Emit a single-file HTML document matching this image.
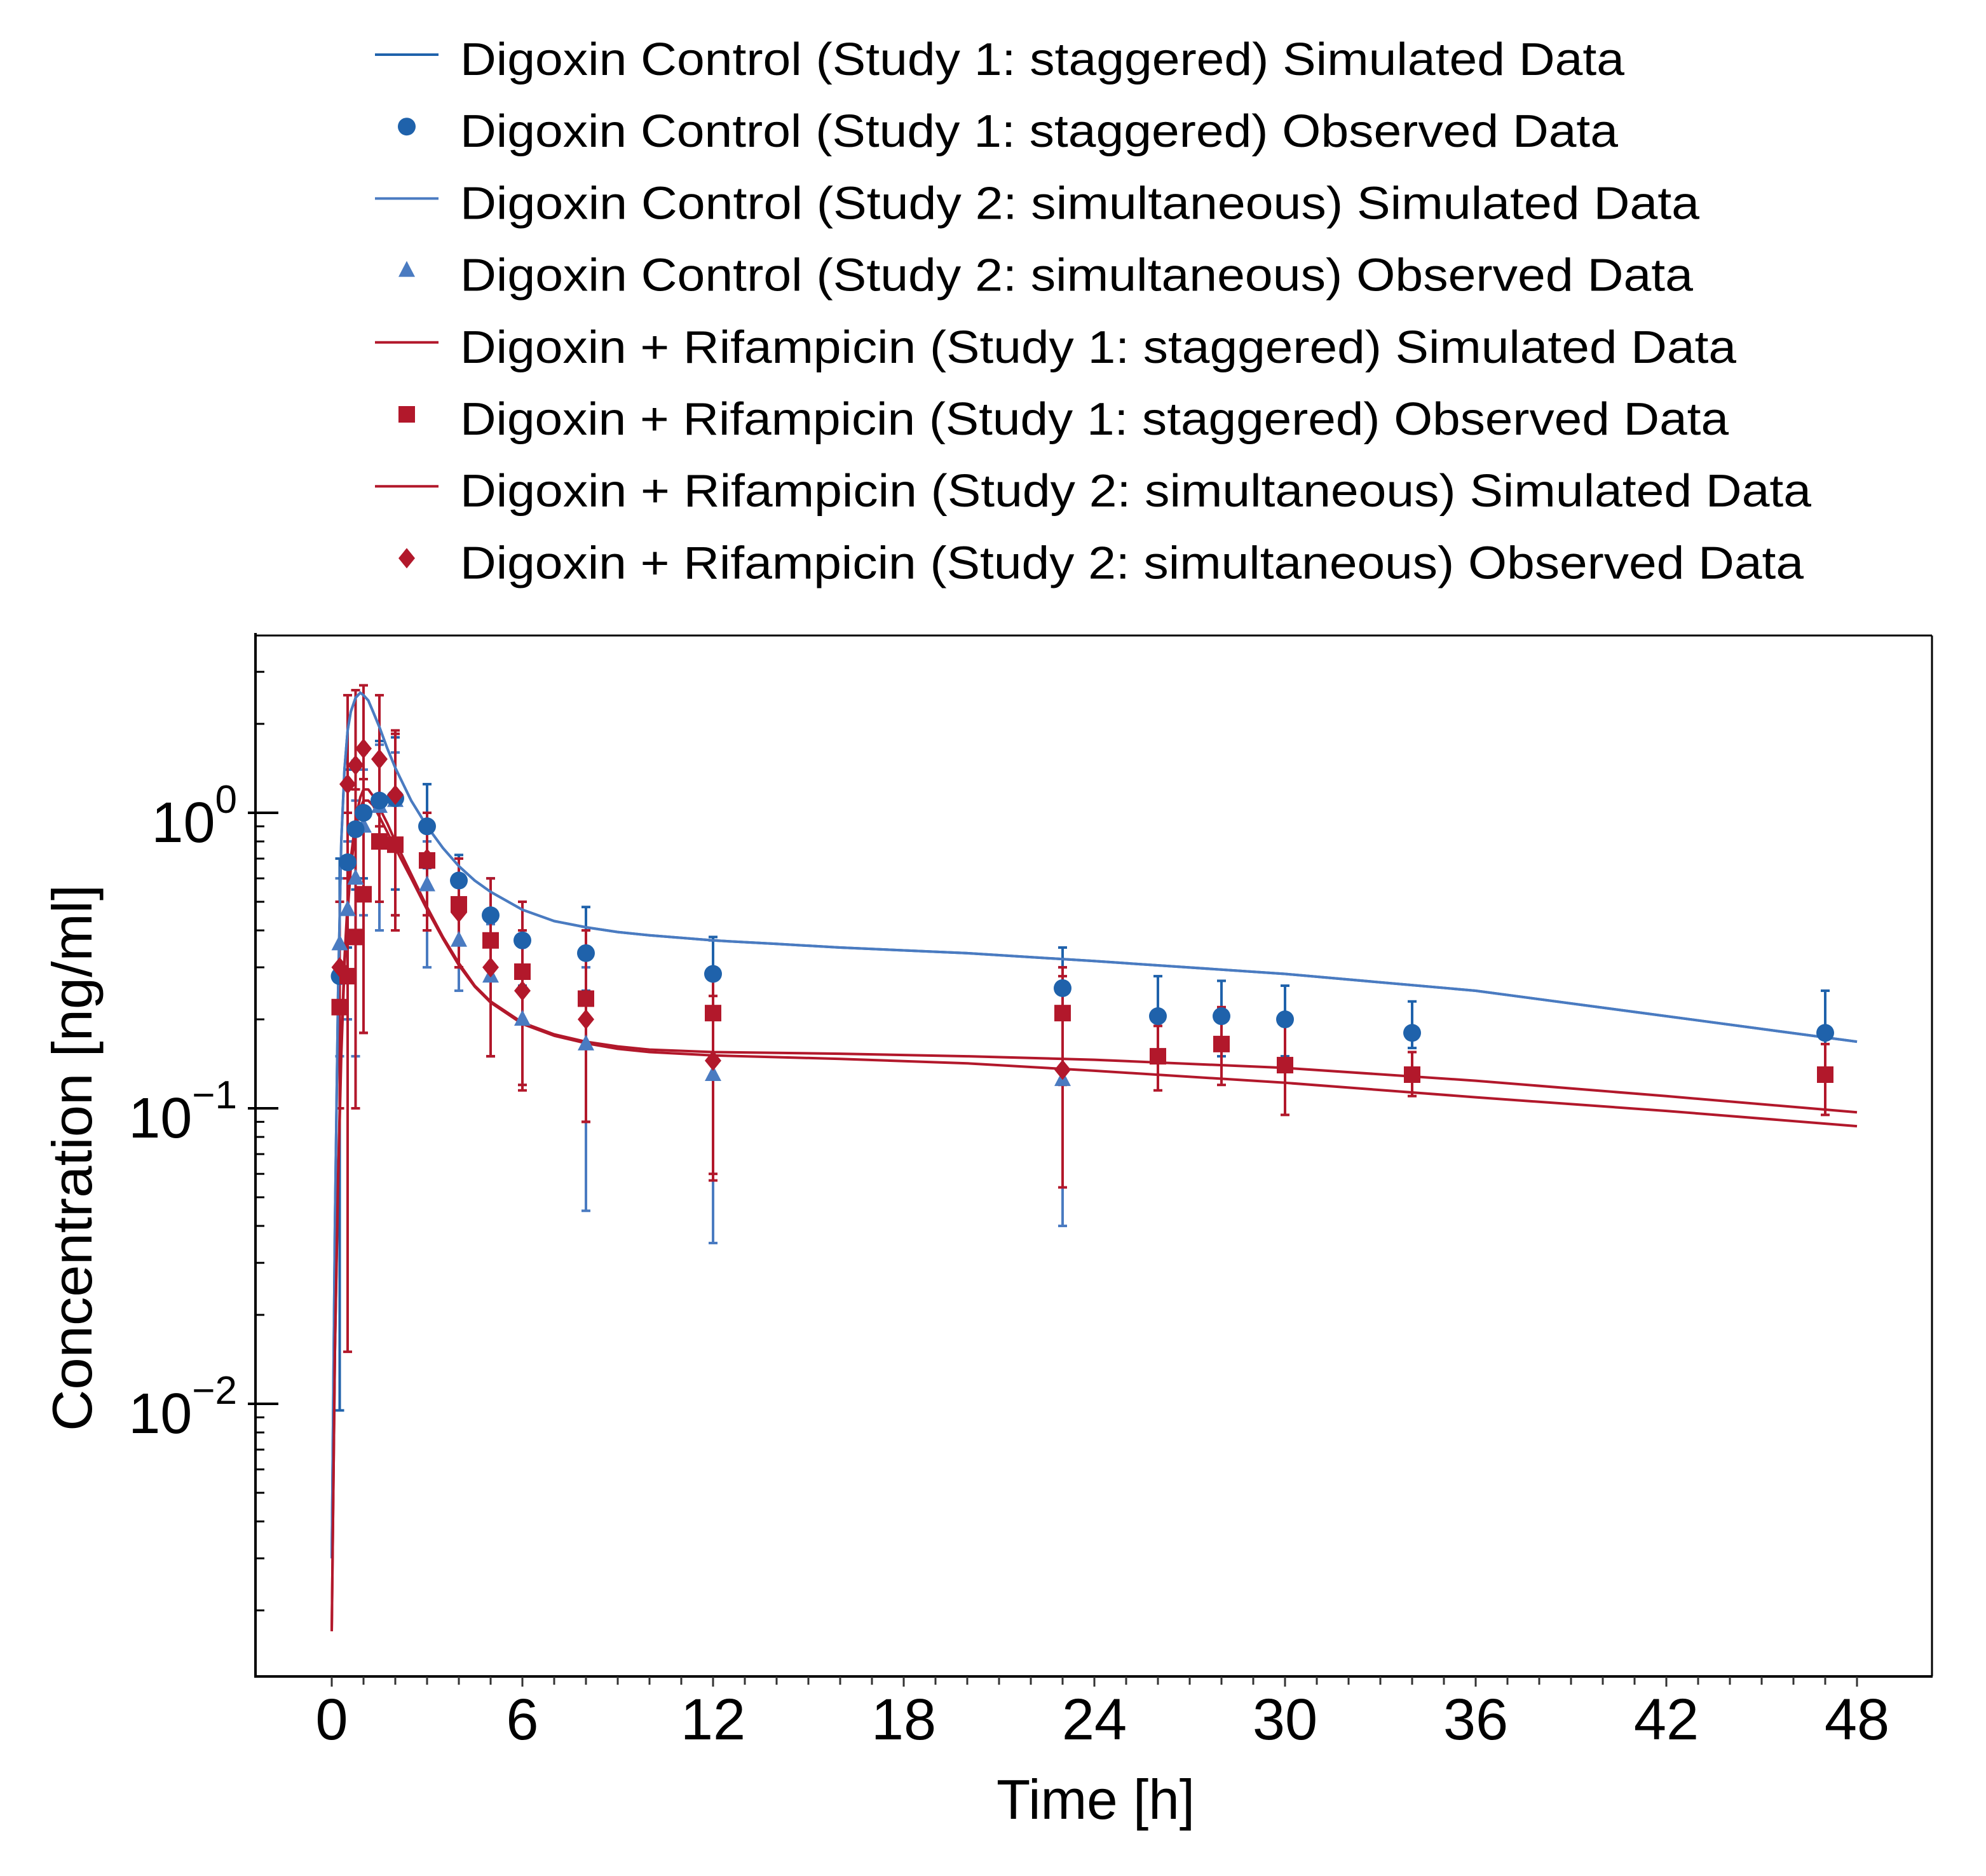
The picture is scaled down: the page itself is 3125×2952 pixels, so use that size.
<!DOCTYPE html>
<html><head><meta charset="utf-8"><style>
html,body{margin:0;padding:0;background:#fff;}
svg{display:block;font-family:"Liberation Sans","DejaVu Sans",sans-serif;}
</style></head><body>
<svg id="chart" width="3125" height="2952" viewBox="0 0 3125 2952" xmlns="http://www.w3.org/2000/svg">
<rect x="0" y="0" width="3125" height="2952" fill="#fff"/>
<g id="legend"></g>
<g id="plot"></g>
<g id="axes"></g>
</svg>
<script>
// ---- data ----
const xTicks = [0,6,12,18,24,30,36,42,48];
const yDecades = [0,-1,-2];
const legendLabels = [
 "Digoxin Control (Study 1: staggered) Simulated Data",
 "Digoxin Control (Study 1: staggered) Observed Data",
 "Digoxin Control (Study 2: simultaneous) Simulated Data",
 "Digoxin Control (Study 2: simultaneous) Observed Data",
 "Digoxin + Rifampicin (Study 1: staggered) Simulated Data",
 "Digoxin + Rifampicin (Study 1: staggered) Observed Data",
 "Digoxin + Rifampicin (Study 2: simultaneous) Simulated Data",
 "Digoxin + Rifampicin (Study 2: simultaneous) Observed Data"];

const simTime = [0,0.1,0.2,0.3,0.4,0.5,0.6,0.75,0.9,1,1.15,1.3,1.5,1.75,2,2.5,3,3.5,4,4.5,5,6,7,8,9,10,12,14,16,20,24,30,36,42,48];
const simCtrl1 = [0.003,0.04,0.25,0.8,1.4,1.9,2.2,2.45,2.55,2.5,2.4,2.2,1.95,1.65,1.42,1.1,0.9,0.76,0.66,0.59,0.54,0.47,0.43,0.41,0.395,0.385,0.37,0.36,0.35,0.335,0.315,0.285,0.25,0.205,0.168];
const simCtrl2 = [0.003,0.04,0.25,0.8,1.4,1.9,2.2,2.45,2.55,2.5,2.4,2.2,1.95,1.65,1.42,1.1,0.9,0.76,0.66,0.59,0.54,0.47,0.43,0.41,0.395,0.385,0.37,0.36,0.35,0.335,0.315,0.285,0.25,0.205,0.168];
const simRif1 = [0.0017,0.015,0.06,0.16,0.32,0.5,0.7,0.95,1.13,1.2,1.2,1.14,1.04,0.92,0.8,0.62,0.48,0.38,0.31,0.26,0.23,0.195,0.178,0.168,0.162,0.158,0.155,0.154,0.153,0.15,0.146,0.137,0.124,0.11,0.097];
const simRif2 = [0.0017,0.015,0.055,0.15,0.3,0.46,0.65,0.88,1.04,1.1,1.1,1.06,0.97,0.86,0.76,0.6,0.47,0.375,0.305,0.258,0.228,0.193,0.176,0.166,0.159,0.155,0.151,0.149,0.147,0.142,0.134,0.122,0.109,0.098,0.087];

const obsCtrl1T = [0.25,0.5,0.75,1,1.5,2,3,4,5,6,8,12,23,26,28,30,34,47];
const obsCtrl1V = [0.28,0.68,0.88,1.0,1.1,1.12,0.9,0.59,0.45,0.37,0.335,0.285,0.255,0.205,0.205,0.2,0.18,0.18];
const obsCtrl1Lo = [0.0095,0.35,0.55,0.6,0.5,0.55,0.65,0.48,0.38,0.26,0.25,0.21,0.2,0.15,0.15,0.15,0.16,0.13];
const obsCtrl1Hi = [0.7,1.4,1.5,1.6,1.75,1.8,1.25,0.72,0.6,0.5,0.48,0.38,0.35,0.28,0.27,0.26,0.23,0.25];

const obsCtrl2T = [0.25,0.5,0.75,1,1.5,2,3,4,5,6,8,12,23];
const obsCtrl2V = [0.36,0.47,0.6,0.9,1.05,1.1,0.57,0.37,0.28,0.2,0.165,0.13,0.125];
const obsCtrl2Lo = [0.15,0.2,0.15,0.45,0.4,0.45,0.3,0.25,0.15,0.12,0.045,0.035,0.04];
const obsCtrl2Hi = [0.6,0.8,1.1,1.4,1.7,1.6,0.8,0.5,0.42,0.3,0.3,0.37,0.3];

const obsRif1T = [0.25,0.5,0.75,1,1.5,2,3,4,5,6,8,12,23,26,28,30,34,47];
const obsRif1V = [0.22,0.28,0.38,0.53,0.8,0.78,0.69,0.49,0.37,0.29,0.235,0.21,0.21,0.15,0.165,0.14,0.13,0.13];
const obsRif1Lo = [0.1,0.015,0.1,0.18,0.5,0.4,0.45,0.3,0.15,0.115,0.09,0.06,0.12,0.115,0.12,0.095,0.11,0.095];
const obsRif1Hi = [0.5,1.0,1.2,1.3,1.5,1.9,1.0,0.7,0.6,0.5,0.4,0.3,0.3,0.19,0.22,0.19,0.155,0.165];

const obsRif2T = [0.25,0.5,0.75,1,1.5,2,3,4,5,6,8,12,23];
const obsRif2V = [0.3,1.25,1.45,1.65,1.52,1.15,0.7,0.46,0.3,0.25,0.2,0.145,0.135];
const obsRif2Lo = [0.1,0.6,0.4,0.18,0.9,0.45,0.4,0.3,0.15,0.12,0.09,0.057,0.054];
const obsRif2Hi = [0.5,2.5,2.6,2.7,2.5,1.85,1.0,0.62,0.45,0.4,0.32,0.24,0.28];

// ---- geometry ----
const NS="http://www.w3.org/2000/svg";
const L=402,R=3040,T=1000,B=2638;
const X0=522,PXH=50;
const Y0=1279,DEC=465;
function xs(t){return X0+t*PXH;}
function ys(v){return Y0-Math.log10(v)*DEC;}
const C_BLUE="#1f62ab", C_BLUE2="#4a7bc1", C_RED="#b2182b";
function mk(tag,attrs,parent){const e=document.createElementNS(NS,tag);for(const k in attrs)e.setAttribute(k,attrs[k]);parent.appendChild(e);return e;}
const plot=document.getElementById('plot'), axes=document.getElementById('axes'), legend=document.getElementById('legend');

const defs=mk('defs',{},plot.parentNode);
const cp=mk('clipPath',{id:'clip'},defs);
mk('rect',{x:L,y:T,width:R-L,height:B-T},cp);
const pg=mk('g',{'clip-path':'url(#clip)'},plot);

function simLine(vals,color,name){
  let d='';
  for(let i=0;i<simTime.length;i++){d+=(i?'L':'M')+xs(simTime[i]).toFixed(1)+','+ys(vals[i]).toFixed(1);}
  const p=mk('path',{d:d,fill:'none',stroke:color,'stroke-width':4,'stroke-linejoin':'round'},pg);
  
  
}
function errs(T_,lo,hi,color,name){
  const g=mk('g',{},pg);
  
  
  for(let i=0;i<T_.length;i++){
    const x=xs(T_[i]),y1=ys(lo[i]),y2=ys(hi[i]);
    mk('line',{x1:x,x2:x,y1:y1,y2:y2,stroke:color,'stroke-width':4},g);
    mk('line',{x1:x-7,x2:x+7,y1:y1,y2:y1,stroke:color,'stroke-width':4},g);
    mk('line',{x1:x-7,x2:x+7,y1:y2,y2:y2,stroke:color,'stroke-width':4},g);
  }
}
function marker(shape,x,y,color,parent){
  let e;
  if(shape==='circle')e=mk('circle',{cx:x,cy:y,r:14,fill:color},parent);
  else if(shape==='tri')e=mk('polygon',{points:`${x},${y-15} ${x+13},${y+10} ${x-13},${y+10}`,fill:color},parent);
  else if(shape==='sq')e=mk('rect',{x:x-13,y:y-13,width:26,height:26,fill:color},parent);
  else e=mk('polygon',{points:`${x},${y-16} ${x+13},${y} ${x},${y+16} ${x-13},${y}`,fill:color},parent);
  return e;
}
function pts(T_,V,shape,color,name){
  const g=mk('g',{},pg);
  
  
  for(let i=0;i<T_.length;i++){
    const m=marker(shape,xs(T_[i]),ys(V[i]),color,g);
    
    
  }
}
errs(obsCtrl2T,obsCtrl2Lo,obsCtrl2Hi,C_BLUE2,'ctrl-study2-error-bars');
errs(obsCtrl1T,obsCtrl1Lo,obsCtrl1Hi,C_BLUE,'ctrl-study1-error-bars');
errs(obsRif1T,obsRif1Lo,obsRif1Hi,C_RED,'rif-study1-error-bars');
errs(obsRif2T,obsRif2Lo,obsRif2Hi,C_RED,'rif-study2-error-bars');
simLine(simCtrl1,C_BLUE,'ctrl-study1-sim-line');
simLine(simCtrl2,C_BLUE2,'ctrl-study2-sim-line');
simLine(simRif1,C_RED,'rif-study1-sim-line');
simLine(simRif2,C_RED,'rif-study2-sim-line');
pts(obsCtrl2T,obsCtrl2V,'tri',C_BLUE2,'ctrl-study2-observed');
pts(obsCtrl1T,obsCtrl1V,'circle',C_BLUE,'ctrl-study1-observed');
pts(obsRif1T,obsRif1V,'sq',C_RED,'rif-study1-observed');
pts(obsRif2T,obsRif2V,'dia',C_RED,'rif-study2-observed');

// ---- axes frame ----
mk('line',{x1:L,x2:R,y1:T,y2:T,stroke:'#000','stroke-width':3},axes);
mk('line',{x1:R,x2:R,y1:T,y2:B,stroke:'#000','stroke-width':3},axes);
mk('line',{x1:L,x2:L,y1:T-4,y2:B+2,stroke:'#000','stroke-width':4},axes);
mk('line',{x1:L-2,x2:R+1,y1:B,y2:B,stroke:'#000','stroke-width':4},axes);
for(let t=0;t<=48;t++){
  const major=t%6===0;
  mk('line',{x1:xs(t),x2:xs(t),y1:B,y2:B+(major?16:13),stroke:'#333','stroke-width':3},axes);
}
xTicks.forEach(t=>{
  const e=mk('text',{x:xs(t),y:2737,'font-size':92,'text-anchor':'middle',fill:'#000'},axes);
  e.textContent=t;
  
  
});
for(let d=-3;d<=0;d++){
  for(let m=1;m<=9;m++){
    const v=m*Math.pow(10,d);const y=ys(v);
    if(y<T||y>B)continue;
    if(m===1)mk('line',{x1:L-12,x2:L+36,y1:y,y2:y,stroke:'#000','stroke-width':4},axes);
    else mk('line',{x1:L,x2:L+14,y1:y,y2:y,stroke:'#000','stroke-width':3},axes);
  }
}
yDecades.forEach(d=>{
  const t=mk('text',{x:373,y:ys(Math.pow(10,d))+46,'font-size':90,'text-anchor':'end',fill:'#000'},axes);
  
  
  const a=document.createElementNS(NS,'tspan');a.textContent='10';t.appendChild(a);
  const b=document.createElementNS(NS,'tspan');b.setAttribute('dy','-46');b.setAttribute('font-size','62');b.textContent=(d<0?'\u2212':'')+Math.abs(d);t.appendChild(b);
});
const xl=mk('text',{x:1724,y:2862,'font-size':88,'text-anchor':'middle',fill:'#000',textLength:312,lengthAdjust:'spacingAndGlyphs'},axes);
xl.textContent='Time [h]';


const yl=mk('text',{x:0,y:0,'font-size':88,'text-anchor':'middle',fill:'#000',transform:'translate(144,1822) rotate(-90)',textLength:860,lengthAdjust:'spacingAndGlyphs'},axes);
yl.textContent='Concentration [ng/ml]';



// ---- legend ----
const legColors=[C_BLUE,C_BLUE,C_BLUE2,C_BLUE2,C_RED,C_RED,C_RED,C_RED];
const legShapes=['line','circle','line','tri','line','sq','line','dia'];
const legWidths=[1832,1822,1950,1940,2008,1996,2126,2114];
for(let i=0;i<legendLabels.length;i++){
  const cy=94+i*113.2;
  const g=mk('g',{},legend);
  
  
  if(legShapes[i]==='line')mk('line',{x1:590,x2:690,y1:cy-8,y2:cy-8,stroke:legColors[i],'stroke-width':4},g);
  else marker(legShapes[i],640,cy-8,legColors[i],g);
  const t=mk('text',{x:724,y:cy+24,'font-size':72,fill:'#000',textLength:legWidths[i],lengthAdjust:'spacingAndGlyphs'},g);
  t.textContent=legendLabels[i];
}
</script>
</body></html>
